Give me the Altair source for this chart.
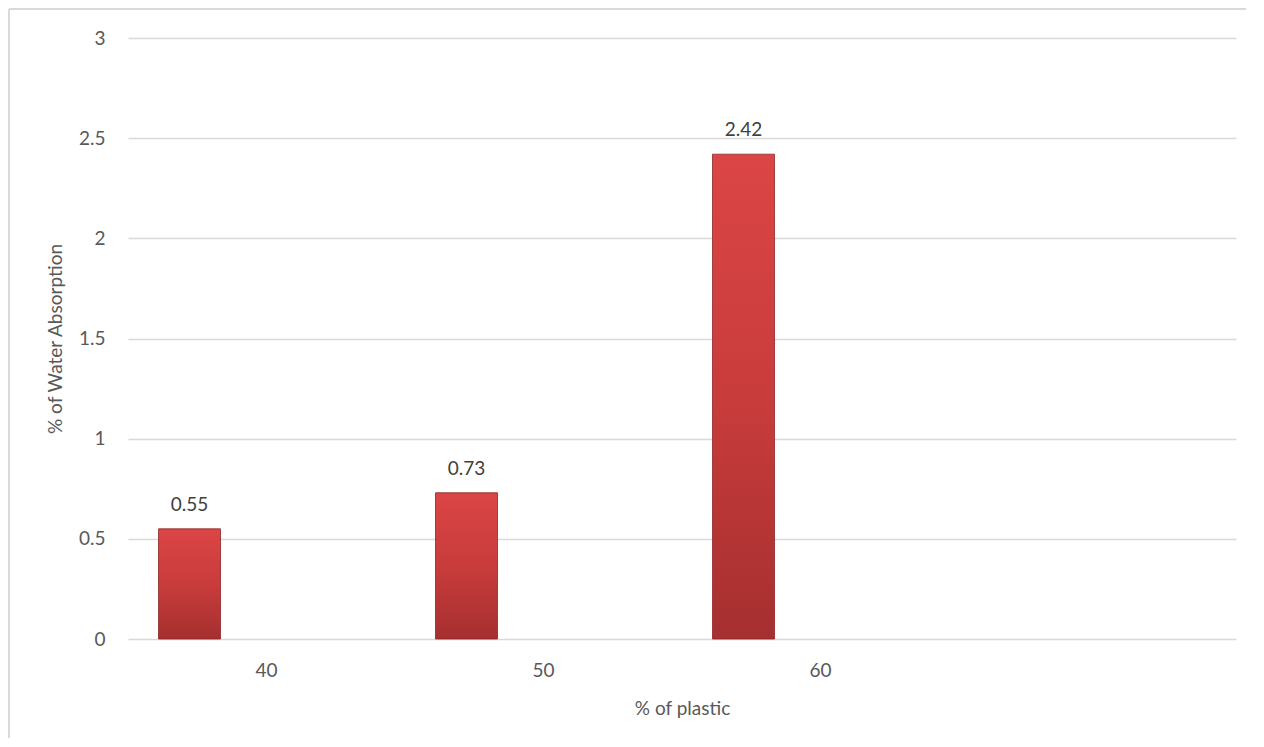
import altair as alt
import pandas as pd

categories = ["40", "50", "60"]
axis_slots = ["40", "50", "60", ""]
values = [0.55, 0.73, 2.42]
labels = ["0.55", "0.73", "2.42"]

df = pd.DataFrame({"plastic": categories, "absorption": values, "label": labels})

FONT = "Lato"
GREY = "#595959"

x_enc = alt.X(
    "plastic:N",
    scale=alt.Scale(domain=axis_slots, paddingInner=0, paddingOuter=0),
    sort=axis_slots,
    axis=alt.Axis(
        title="% of plastic",
        labelAngle=0,
        labelPadding=22,
        titlePadding=19,
        domain=False,
        ticks=False,
        grid=False,
    ),
)
y_enc = alt.Y(
    "absorption:Q",
    scale=alt.Scale(domain=[0, 3], nice=False),
    axis=alt.Axis(
        title="% of Water Absorption",
        values=[0, 0.5, 1, 1.5, 2, 2.5, 3],
        format="~g",
        labelPadding=23,
        titlePadding=13,
        domain=False,
        ticks=False,
        grid=True,
    ),
)

bar_fill = alt.Gradient(
    gradient="linear",
    x1=0, y1=0, x2=0, y2=1,
    stops=[
        alt.GradientStop(color="#db4545", offset=0),
        alt.GradientStop(color="#c93c3c", offset=0.5),
        alt.GradientStop(color="#a62f2f", offset=1),
    ],
)

bars = alt.Chart(df).mark_bar(
    size=62, xOffset=-77, color=bar_fill, stroke="#8e2626", strokeWidth=0.8
).encode(x=x_enc, y=y_enc)

text = alt.Chart(df).mark_text(
    xOffset=-77, dy=-14, baseline="bottom", fontSize=19, font=FONT, color="#404040"
).encode(x=x_enc, y=y_enc, text="label:N")

frame_left = alt.Chart(df).mark_rule(stroke="#d9d9d9", strokeWidth=1.5).encode(
    x=alt.value(-119), x2=alt.value(-119), y=alt.value(-29), y2=alt.value(700)
)
frame_top = alt.Chart(df).mark_rule(stroke="#d9d9d9", strokeWidth=1.5).encode(
    x=alt.value(-119), x2=alt.value(1118), y=alt.value(-29), y2=alt.value(-29)
)

chart = alt.layer(frame_left, frame_top, bars, text).properties(
    width=1108,
    height=601,
    background="white",
    autosize=alt.AutoSizeParams(type="none"),
    padding={"left": 120, "top": 30, "right": 10, "bottom": 99},
).configure_view(
    stroke=None
).configure_axis(
    labelFont=FONT,
    titleFont=FONT,
    labelFontSize=19,
    titleFontSize=19,
    titleFontWeight="normal",
    labelColor=GREY,
    titleColor=GREY,
    gridColor="#d9d9d9",
    gridWidth=1.5,
)

chart.save("out.html", embed_options={"renderer": "svg", "actions": False})
